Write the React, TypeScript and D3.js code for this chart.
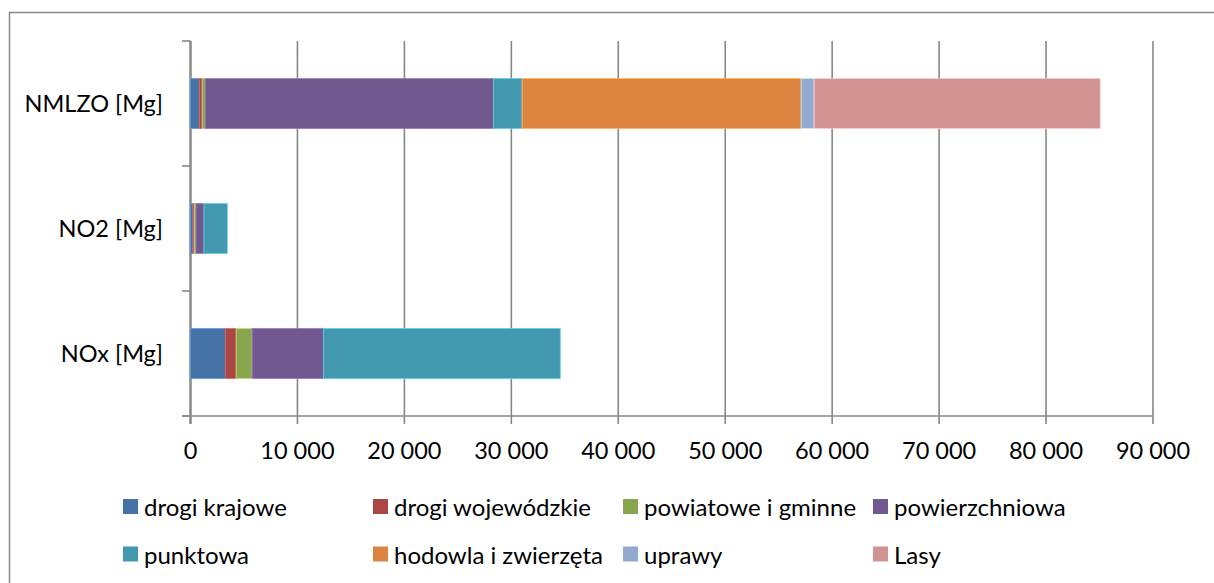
import React from "react";
import * as d3 from "d3";

const categories = ["NMLZO [Mg]", "NO2 [Mg]", "NOx [Mg]"];
const seriesNames = [
  "drogi krajowe",
  "drogi wojewódzkie",
  "powiatowe i gminne",
  "powierzchniowa",
  "punktowa",
  "hodowla i zwierzęta",
  "uprawy",
  "Lasy",
];
const colors = ["#4572A7", "#AA4643", "#89A54E", "#71588F", "#4198AF", "#DB843D", "#93A9CF", "#D19392"];
// values per series, in category order [NMLZO, NO2, NOx]
const drogiKrajowe = [840, 230, 3270];
const drogiWojewodzkie = [250, 120, 1000];
const powiatowe = [280, 160, 1495];
const powierzchniowa = [26960, 750, 6660];
const punktowa = [2680, 2180, 22150];
const hodowla = [26090, 0, 0];
const uprawy = [1215, 0, 0];
const lasy = [26750, 0, 0];
const xTicks = [0, 10000, 20000, 30000, 40000, 50000, 60000, 70000, 80000, 90000];

const seriesValues = [drogiKrajowe, drogiWojewodzkie, powiatowe, powierzchniowa, punktowa, hodowla, uprawy, lasy];

const FONT = "Lato, 'Open Sans', sans-serif";
const fmt = (v: number) => d3.format(",")(v).replace(/,/g, " ");

export default function App() {
  const W = 1214, H = 583;
  const x = d3.scaleLinear().domain([0, 90000]).range([190.5, 1153]);
  const y = d3.scaleBand().domain(categories).range([41, 416]).paddingInner(0.6).paddingOuter(0.3);
  const step = y.step();
  const top = 41, bottom = 416;

  const rows = categories.map((c, ci) => {
    const o: any = { cat: c };
    seriesNames.forEach((s, si) => (o[s] = seriesValues[si][ci]));
    return o;
  });
  const stacked = d3.stack().keys(seriesNames)(rows);

  const gray = "#878787";

  return (
    <svg width={W} height={H} style={{ display: "block", position: "absolute", left: 0, top: 0 }}>
      <rect x={0} y={0} width={W} height={H} fill="#fff" />
      {/* outer frame */}
      <path d={`M9.5,${H + 5} V12.5 H${W + 5}`} fill="none" stroke={gray} strokeWidth={1.5} />
      {/* gridlines */}
      {xTicks.map((t) => (
        <line key={t} x1={x(t)} x2={x(t)} y1={top} y2={bottom + 8} stroke={gray} strokeWidth={t === 0 ? 2.5 : 1.6} />
      ))}
      {/* bars */}
      {stacked.map((layer, si) => (
        <g key={si}>
          {layer.map((d, ci) => {
            const w = x(d[1]) - x(d[0]);
            if (w <= 0) return null;
            return (
              <rect
                key={ci}
                x={x(d[0])}
                y={y(categories[ci])!}
                width={w}
                height={y.bandwidth()}
                fill={colors[si]}
                stroke={d3.color(colors[si])!.brighter(0.9).formatHex()}
                strokeWidth={0.8}
              />
            );
          })}
        </g>
      ))}
      {/* x axis line */}
      <line x1={182} x2={x(90000)} y1={bottom} y2={bottom} stroke={gray} strokeWidth={1.6} />
      {/* y ticks */}
      {[0, 1, 2, 3].map((i) => (
        <line key={i} x1={182} x2={190.5} y1={top + i * step} y2={top + i * step} stroke={gray} strokeWidth={1.6} />
      ))}
      {/* x tick labels */}
      {xTicks.map((t) => (
        <text key={t} x={x(t)} y={450} textAnchor="middle" dominantBaseline="central" fontFamily={FONT} fontSize={23.5} fill="#000">
          {fmt(t)}
        </text>
      ))}
      {/* category labels */}
      {categories.map((c) => (
        <text key={c} x={163} y={y(c)! + y.bandwidth() / 2 - 1} textAnchor="end" dominantBaseline="central" fontFamily={FONT} fontSize={23.5} fill="#000">
          {c}
        </text>
      ))}
      {/* legend */}
      {seriesNames.map((s, i) => {
        const col = i % 4, row = Math.floor(i / 4);
        const lx = 123 + col * 250;
        const ly = 506.5 + row * 47.5;
        return (
          <g key={s}>
            <rect x={lx} y={ly - 7.5} width={15} height={15} fill={colors[i]} />
            <text x={lx + 21} y={ly} dominantBaseline="central" fontFamily={FONT} fontSize={24} fill="#000">
              {s}
            </text>
          </g>
        );
      })}
    </svg>
  );
}
